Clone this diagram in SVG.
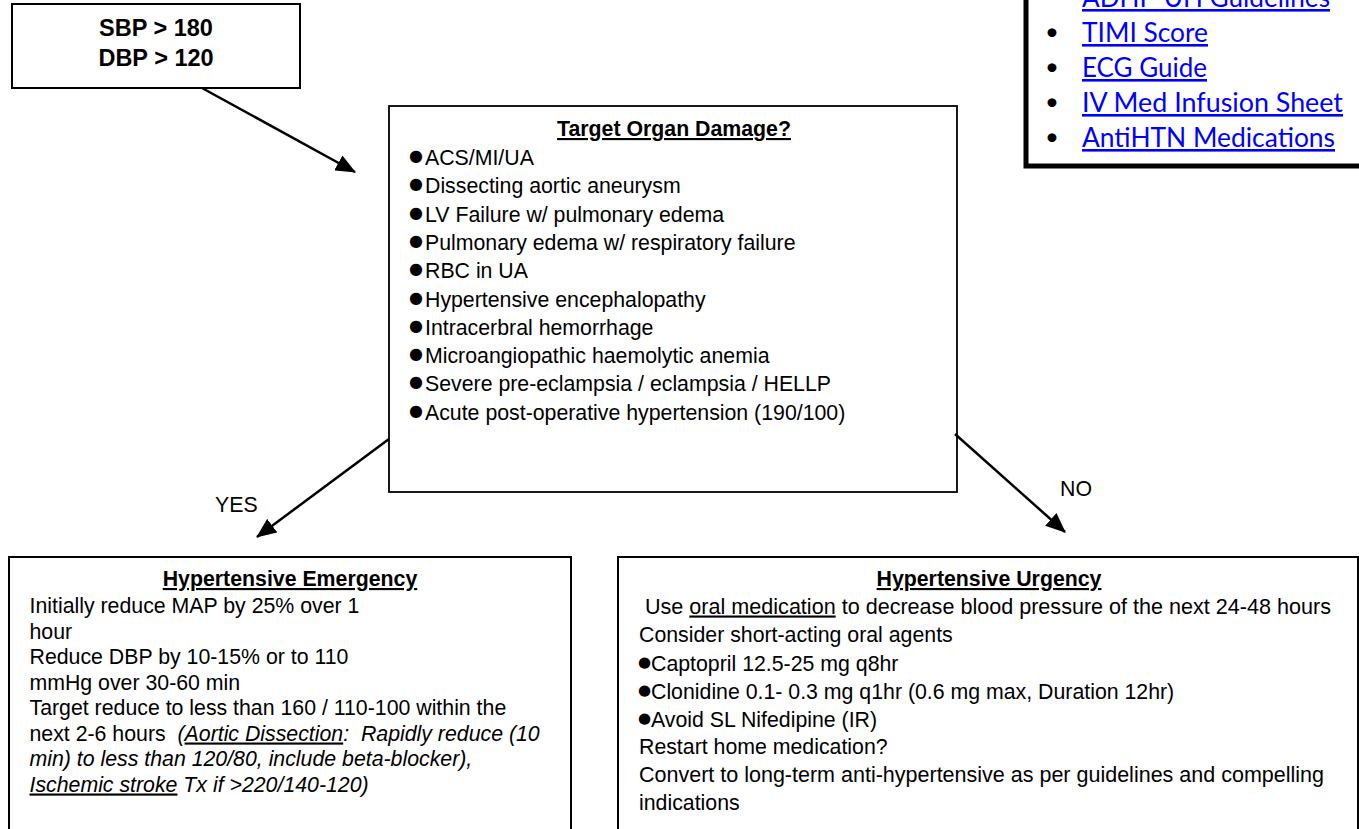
<svg xmlns="http://www.w3.org/2000/svg" width="1359" height="829" viewBox="0 0 1359 829">
  <defs>
    <marker id="arrow" markerUnits="userSpaceOnUse" markerWidth="21" markerHeight="17" refX="19" refY="8.5" orient="auto">
      <path d="M0,0 L20,8.5 L0,17 Z" fill="#000"/>
    </marker>
    <style>
      .box { fill: #fff; stroke: #000; stroke-width: 2; }
      .t { font-family: "Liberation Sans", Arial, sans-serif; font-size: 21.3px; fill: #000; }
      .b { font-weight: bold; }
      .c { text-anchor: middle; }
      .u { text-decoration: underline; }
      .i { font-style: italic; }
      .bul { font-family: "DejaVu Sans", sans-serif; font-size: 16px; fill: #000; }
      .bul2 { font-family: "DejaVu Sans", sans-serif; font-size: 15px; fill: #000; }
      .link { font-family: Lato, "Open Sans", sans-serif; font-size: 26px; fill: #0000ff; text-decoration: underline; }
      .dot { font-family: Lato, sans-serif; font-size: 24px; fill: #000; }
      .conn { stroke: #000; stroke-width: 2.5; fill: none; marker-end: url(#arrow); }
    </style>
  </defs>

  <rect width="1359" height="829" fill="#fff"/>

  <!-- Reference links panel (top right) -->
  <g id="links">
    <rect x="1026" y="-20" width="400" height="186" fill="#fff" stroke="#000" stroke-width="5"/>
    <text class="link" x="1082" y="7" textLength="248" lengthAdjust="spacingAndGlyphs">ADHF-UH Guidelines</text>
    <text class="dot" x="1045" y="40">•</text>
    <text class="link" x="1082" y="42" textLength="126" lengthAdjust="spacingAndGlyphs">TIMI Score</text>
    <text class="dot" x="1045" y="75">•</text>
    <text class="link" x="1082" y="77" textLength="125" lengthAdjust="spacingAndGlyphs">ECG Guide</text>
    <text class="dot" x="1045" y="110">•</text>
    <text class="link" x="1082" y="112" textLength="261" lengthAdjust="spacingAndGlyphs">IV Med Infusion Sheet</text>
    <text class="dot" x="1045" y="145">•</text>
    <text class="link" x="1082" y="147" textLength="253" lengthAdjust="spacingAndGlyphs">AntiHTN Medications</text>
  </g>

  <!-- Entry criteria -->
  <g id="bp">
    <rect class="box" x="12" y="4" width="288" height="84"/>
    <text class="t b c" x="156" y="36" style="font-size:23.5px">SBP &gt; 180</text>
    <text class="t b c" x="156" y="66" style="font-size:23.5px">DBP &gt; 120</text>
  </g>

  <!-- Decision: target organ damage -->
  <g id="tod">
    <rect class="box" x="389" y="106" width="568" height="386" style="stroke-width:1.8"/>
    <text class="t b c u" x="674" y="136">Target Organ Damage?</text>
    <text class="t"><tspan class="bul" x="409" y="161">●</tspan><tspan x="425" y="165">ACS/MI/UA</tspan></text>
    <text class="t"><tspan class="bul" x="409" y="189.3">●</tspan><tspan x="425" y="193.3">Dissecting aortic aneurysm</tspan></text>
    <text class="t"><tspan class="bul" x="409" y="217.6">●</tspan><tspan x="425" y="221.6">LV Failure w/ pulmonary edema</tspan></text>
    <text class="t"><tspan class="bul" x="409" y="245.9">●</tspan><tspan x="425" y="249.9">Pulmonary edema w/ respiratory failure</tspan></text>
    <text class="t"><tspan class="bul" x="409" y="274.2">●</tspan><tspan x="425" y="278.2">RBC in UA</tspan></text>
    <text class="t"><tspan class="bul" x="409" y="302.5">●</tspan><tspan x="425" y="306.5">Hypertensive encephalopathy</tspan></text>
    <text class="t"><tspan class="bul" x="409" y="330.8">●</tspan><tspan x="425" y="334.8">Intracerbral hemorrhage</tspan></text>
    <text class="t"><tspan class="bul" x="409" y="359.1">●</tspan><tspan x="425" y="363.1">Microangiopathic haemolytic anemia</tspan></text>
    <text class="t"><tspan class="bul" x="409" y="387.4">●</tspan><tspan x="425" y="391.4">Severe pre-eclampsia / eclampsia / HELLP</tspan></text>
    <text class="t"><tspan class="bul" x="409" y="415.7">●</tspan><tspan x="425" y="419.7">Acute post-operative hypertension (190/100)</tspan></text>
  </g>

  <!-- YES branch -->
  <g id="emergency">
    <rect class="box" x="9" y="557" width="562" height="320"/>
    <text class="t b c u" x="290" y="586">Hypertensive Emergency</text>
    <text class="t" x="29.5" y="613">Initially reduce MAP by 25% over 1</text>
    <text class="t" x="29.5" y="638.5">hour</text>
    <text class="t" x="29.5" y="664">Reduce DBP by 10-15% or to 110</text>
    <text class="t" x="29.5" y="689.5">mmHg over 30-60 min</text>
    <text class="t" x="29.5" y="715">Target reduce to less than 160 / 110-100 within the</text>
    <text class="t" x="29.5" y="740.5" xml:space="preserve">next 2-6 hours  <tspan class="i">(</tspan><tspan class="i u">Aortic Dissection</tspan><tspan class="i">:  Rapidly reduce (10</tspan></text>
    <text class="t i" x="29.5" y="766">min) to less than 120/80, include beta-blocker),</text>
    <text class="t i" x="29.5" y="791.5" xml:space="preserve"><tspan class="u">Ischemic stroke</tspan> Tx if &gt;220/140-120)</text>
  </g>

  <!-- NO branch -->
  <g id="urgency">
    <rect class="box" x="618" y="557" width="740" height="320"/>
    <text class="t b c u" x="989" y="586">Hypertensive Urgency</text>
    <text class="t" x="639" y="613.5" xml:space="preserve" textLength="692" lengthAdjust="spacingAndGlyphs"> Use <tspan class="u">oral medication</tspan> to decrease blood pressure of the next 24-48 hours</text>
    <text class="t" x="639" y="642">Consider short-acting oral agents</text>
    <text class="t"><tspan class="bul2" x="638" y="667">●</tspan><tspan x="651" y="670.5">Captopril 12.5-25 mg q8hr</tspan></text>
    <text class="t"><tspan class="bul2" x="638" y="695">●</tspan><tspan x="651" y="698.5">Clonidine 0.1- 0.3 mg q1hr (0.6 mg max, Duration 12hr)</tspan></text>
    <text class="t"><tspan class="bul2" x="638" y="723">●</tspan><tspan x="651" y="726.5">Avoid SL Nifedipine (IR)</tspan></text>
    <text class="t" x="639" y="754">Restart home medication?</text>
    <text class="t" x="639" y="782" textLength="685" lengthAdjust="spacingAndGlyphs">Convert to long-term anti-hypertensive as per guidelines and compelling</text>
    <text class="t" x="639" y="809.5">indications</text>
  </g>

  <!-- Connectors and branch labels -->
  <g id="connectors">
    <line class="conn" x1="202" y1="88" x2="355" y2="172"/>
    <line class="conn" x1="389" y1="439" x2="257" y2="537"/>
    <line class="conn" x1="955" y1="434" x2="1065" y2="532"/>
    <text class="t" x="215" y="512">YES</text>
    <text class="t" x="1060" y="496">NO</text>
  </g>
</svg>
